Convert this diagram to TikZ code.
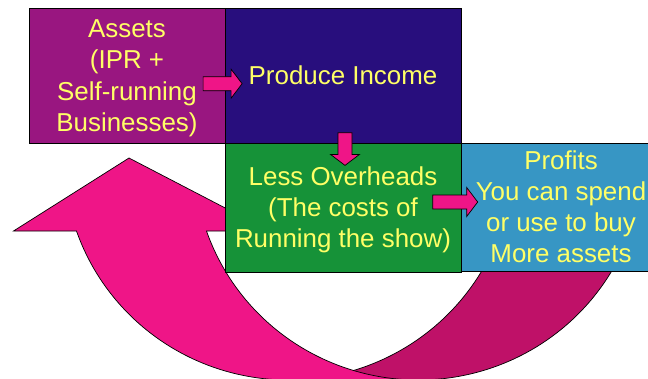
\documentclass[tikz,border=0pt]{standalone}
\usepackage{fontspec}
\setmainfont{Liberation Sans}
\usetikzlibrary{calc}

\definecolor{assetsfill}{RGB}{153,22,128}
\definecolor{incomefill}{RGB}{40,14,125}
\definecolor{overheadfill}{RGB}{22,146,56}
\definecolor{profitfill}{RGB}{55,150,196}
\definecolor{labelyellow}{RGB}{255,255,102}
\definecolor{pinkfront}{RGB}{239,21,135}
\definecolor{pinkback}{RGB}{191,17,104}

% uniform line box for the multi-line labels
\newcommand\lstrut{\rule[-6.65pt]{0pt}{31.3pt}}

% block arrow: tail point, rotation, total length
\newcommand\blockarrow[3]{%
  \draw[arrowbody, shift={(#1)}, rotate=#2]
    (0,-7) -- ({#3-11},-7) -- ({#3-11},-14.5) -- (#3,0)
    -- ({#3-11},14.5) -- ({#3-11},7) -- (0,7) -- cycle;}

\tikzset{
  panel/.style={draw=black, line width=0.8pt, inner sep=0pt, align=center,
    text=labelyellow, font=\fontsize{25.9}{31.3}\selectfont},
  arrowbody/.style={fill=pinkfront, draw=black, line width=0.7pt, line join=miter},
  bandfront/.style={fill=pinkfront, draw=black, line width=0.7pt},
  bandback/.style={fill=pinkback, draw=black, line width=0.7pt},
}

\begin{document}
\begin{tikzpicture}[x=1pt, y=-1pt]
\useasboundingbox (0,0) rectangle (648,378);
\clip (0,0) rectangle (648,378);

% large curved return arrow: rear band first, front band with head on top
\path[bandback]
  plot[domain=0:90, samples=80] ({418.5+224.5*cos(\x)}, {158+222*sin(\x)})
  -- plot[domain=90:0, samples=80] ({288.5+224.5*cos(\x)}, {158+222*sin(\x)})
  -- cycle;
\path[bandfront]
  plot[domain=90:160.8, samples=80] ({288.5+224.5*cos(\x)}, {158+222*sin(\x)})
  -- (13.5,231) -- (129,158) -- (269.5,231)
  -- plot[domain=160.8:90, samples=80] ({418.5+224.5*cos(\x)}, {158+222*sin(\x)})
  -- cycle;

% the four stages
\node[panel, fill=assetsfill, minimum width=196pt, minimum height=135pt]
  (assets) at (127,75.5)
  {\lstrut Assets\\\lstrut (IPR +\\\lstrut Self-running\\\lstrut Businesses)};
\node[panel, fill=incomefill, minimum width=236pt, minimum height=135pt]
  (income) at (343,75.5) {\lstrut Produce Income};
\node[panel, fill=overheadfill, minimum width=236pt, minimum height=129pt]
  (overheads) at (343,207.5)
  {\lstrut Less Overheads\\\lstrut (The costs of\\\lstrut Running the show)};
\node[panel, fill=profitfill, minimum width=200pt, minimum height=128pt]
  (profits) at (561,207)
  {\lstrut Profits\\\lstrut You can spend\\\lstrut or use to buy\\\lstrut More assets};

% small block arrows between the stages
\coordinate (a1) at ($(assets.east)+(-22.3,8.2)$);
\coordinate (a2) at ($(income.south)+(2,-10.7)$);
\coordinate (a3) at ($(overheads.east)+(-28.7,-5.5)$);
\blockarrow{a1}{0}{39}
\blockarrow{a2}{-90}{32.7}
\blockarrow{a3}{0}{45}
\end{tikzpicture}
\end{document}
